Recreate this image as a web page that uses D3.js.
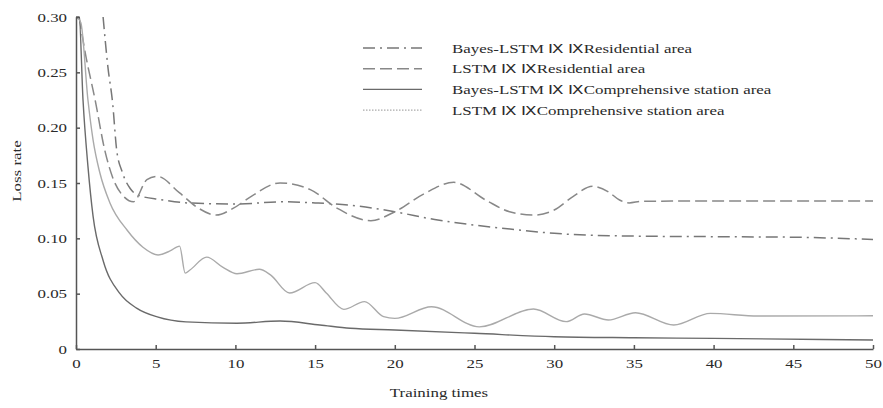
<!DOCTYPE html>
<html>
<head>
<meta charset="utf-8">
<script src="https://cdn.jsdelivr.net/npm/d3@7"></script>
<style>
	body { margin: 0; background: #fff; }
	text { font-family: "Liberation Serif", "Times New Roman", serif; fill: #2a2a2a; }
</style>
</head>
<body>
<svg id="chart" width="883" height="408"></svg>
<script>
// tick labels
const xTicks = [0, 5, 10, 15, 20, 25, 30, 35, 40, 45, 50];
const yTicks = [0, 0.05, 0.10, 0.15, 0.20, 0.25, 0.30];

// series names
const seriesNames = [
	"Bayes-LSTM \u2168 \u2168Residential area",
	"LSTM \u2168 \u2168Residential area",
	"Bayes-LSTM \u2168 \u2168Comprehensive station area",
	"LSTM \u2168 \u2168Comprehensive station area"
];

// [training times, loss rate]
const bayesResidential = [
	[1.7, 0.30], [2.0, 0.255], [2.3, 0.222], [2.55, 0.18], [2.9, 0.16], [3.4, 0.145],
	[3.9, 0.139], [5.3, 0.135], [7, 0.132], [10, 0.131], [13, 0.133], [15, 0.132],
	[17.2, 0.130], [20, 0.124], [22.5, 0.117], [25, 0.112], [27.5, 0.108], [30, 0.1045],
	[35, 0.102], [40, 0.1015], [45, 0.101], [50, 0.099]
];
const lstmResidential = [
	[0.2, 0.30], [0.55, 0.27], [1.2, 0.225], [1.8, 0.18], [2.3, 0.155], [3.05, 0.137],
	[3.6, 0.133], [4.45, 0.153], [5.1, 0.156], [6.5, 0.141], [7.6, 0.128], [8.8, 0.121],
	[9.85, 0.127], [10.9, 0.137], [12.8, 0.150], [14.7, 0.144], [16.4, 0.127], [18.5, 0.116],
	[20, 0.124], [21.8, 0.140], [23.7, 0.1506], [25.7, 0.1346], [27.2, 0.124], [28.7, 0.121],
	[30, 0.1256], [31.2, 0.138], [32.4, 0.147], [33.4, 0.142], [34.1, 0.1346], [34.7, 0.132],
	[35.5, 0.1335], [40, 0.1337], [45, 0.1337], [50, 0.1337]
];
const bayesComprehensive = [
	[0, 0.30], [0.2, 0.30], [0.44, 0.225], [0.75, 0.165], [1.07, 0.12], [1.7, 0.08],
	[2.76, 0.05], [3.8, 0.037], [5.1, 0.029], [6.9, 0.0245], [10.1, 0.0233], [12.8, 0.0253],
	[15.3, 0.0217], [17.2, 0.0187], [20, 0.0172], [25, 0.0142], [30, 0.0111], [35, 0.0102],
	[40, 0.0096], [50, 0.0081]
];
const lstmComprehensive = [
	[0, 0.30], [0.3, 0.295], [0.75, 0.225], [1.07, 0.189], [1.5, 0.159], [2.13, 0.132],
	[3.2, 0.1075], [4.2, 0.092], [5.15, 0.085], [5.9, 0.0886], [6.5, 0.093], [6.85, 0.0686],
	[7.15, 0.0714], [8.2, 0.083], [9.2, 0.074], [10.1, 0.068], [11.5, 0.072], [12.2, 0.067],
	[13.4, 0.0506], [15, 0.060], [15.7, 0.0506], [16.8, 0.0358], [18.1, 0.0428], [19.3, 0.0292],
	[20, 0.0277], [22.3, 0.0382], [25.3, 0.020], [28.7, 0.0361], [30.75, 0.0247], [31.9, 0.0316],
	[33.4, 0.0262], [35.1, 0.0328], [37.5, 0.0217], [39.8, 0.0322], [42.8, 0.0298], [50, 0.030]
];

// dimensions
const margin = { top: 17, left: 76 };
const width = 797;
const height = 332;
const stretch = "scale(1.3,1)"; // the original text is drawn wide

const svg = d3.select("#chart")
	.append("g")
	.attr("transform", "translate(" + margin.left + "," + margin.top + ")");

const x = d3.scaleLinear()
	.domain([0, 50])
	.range([0, width]);

const y = d3.scaleLinear()
	.domain([0, 0.30])
	.range([height, 0]);

const styles = [
	{ data: bayesResidential, color: "#777", dash: "12,5,2,5", widthPx: 1.5 },
	{ data: lstmResidential, color: "#888", dash: "12,5", widthPx: 1.5 },
	{ data: bayesComprehensive, color: "#6a6a6a", dash: null, widthPx: 1.4 },
	{ data: lstmComprehensive, color: "#aaa", dash: null, widthPx: 1.4, legendDash: "1.5,1.5" }
];

const line = d3.line()
	.x(d => x(d[0]))
	.y(d => y(d[1]))
	.curve(d3.curveMonotoneX);

styles.forEach(s => {
	svg.append("path")
	.datum(s.data)
	.attr("fill", "none")
	.attr("stroke", s.color)
	.attr("stroke-width", s.widthPx)
	.attr("stroke-dasharray", s.dash)
	.attr("d", line);
});

// axes
const xAxis = svg.append("g")
	.attr("transform", "translate(0," + height + ")")
	.call(d3.axisBottom(x).tickValues(xTicks).tickSize(-4).tickSizeOuter(0).tickFormat(d3.format("d")));

xAxis.selectAll("text")
	.attr("y", 10)
	.attr("transform", stretch)
	.style("font-size", "13px");

const yAxis = svg.append("g")
	.call(d3.axisLeft(y).tickValues(yTicks).tickSize(-4).tickSizeOuter(0)
		.tickFormat(d => d === 0 ? "0" : d3.format(".2f")(d)));

yAxis.selectAll("text")
	.attr("x", -9 / 1.3)
	.attr("transform", stretch)
	.style("font-size", "13px");

svg.selectAll(".domain, .tick line")
	.attr("stroke", "#555")
	.attr("stroke-width", 1.5);

// axis labels
svg.append("text")
	.attr("transform", "translate(363," + (height + 48) + ") " + stretch)
	.attr("text-anchor", "middle")
	.style("font-size", "13px")
	.text("Training times");

svg.append("text")
	.attr("transform", "translate(-55," + 154 + ") rotate(-90) " + stretch)
	.attr("text-anchor", "middle")
	.style("font-size", "13px")
	.text("Loss rate");

// legend
const legend = svg.append("g")
	.attr("transform", "translate(287,31)");

styles.forEach((s, i) => {
	const row = legend.append("g")
	.attr("transform", "translate(0," + (i * 20.7) + ")");

	row.append("line")
	.attr("x1", 0)
	.attr("x2", 59)
	.attr("stroke", s.color)
	.attr("stroke-width", s.widthPx)
	.attr("stroke-dasharray", s.legendDash || s.dash);

	row.append("text")
	.attr("transform", "translate(89,0) " + stretch)
	.attr("dy", "0.35em")
	.style("font-size", "13px")
	.text(seriesNames[i]);
});
</script>
</body>
</html>
